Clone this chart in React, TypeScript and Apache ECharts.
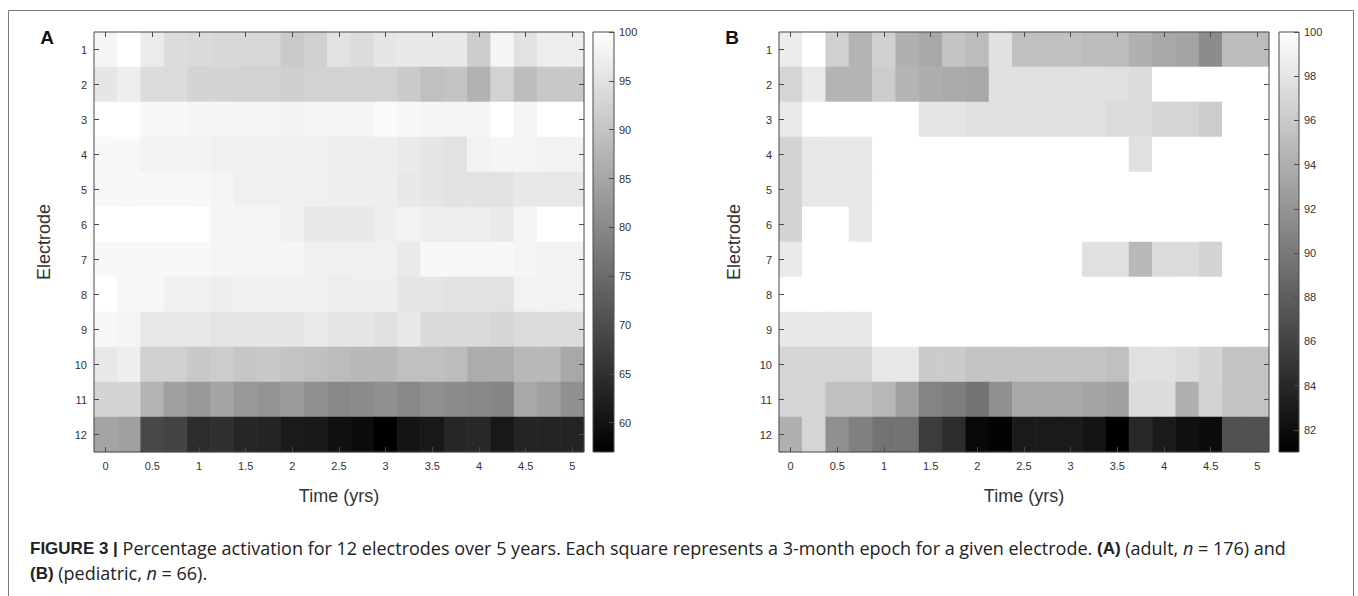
import React, { useEffect, useRef } from "react";
import * as echarts from "echarts";

// 3-month epochs, 0 .. 5 years
const EPOCHS = ["0", "0.25", "0.5", "0.75", "1", "1.25", "1.5", "1.75", "2", "2.25", "2.5", "2.75", "3", "3.25", "3.5", "3.75", "4", "4.25", "4.5", "4.75", "5"];
const ELECTRODES = ["1", "2", "3", "4", "5", "6", "7", "8", "9", "10", "11", "12"];

// colour scale ranges and colour-bar tick labels
const ADULT_RANGE = [57, 100];
const PEDIATRIC_RANGE = [81, 100];
const ADULT_BAR_TICKS = [60, 65, 70, 75, 80, 85, 90, 95, 100];
const PEDIATRIC_BAR_TICKS = [82, 84, 86, 88, 90, 92, 94, 96, 98, 100];

// (A) adult, percentage activation, one row per electrode
const ADULT: number[][] = [
  [98.3, 100, 96.6, 94.1, 93.8, 93.4, 93.4, 93.4, 91.1, 92.1, 95.1, 94.1, 95.8, 96.1, 96.1, 96.1, 91.4, 98.3, 95.1, 97.1, 97.1],
  [95.8, 97.1, 94.1, 94.1, 92.7, 92.7, 92.4, 92.4, 91.9, 92.4, 92.4, 92.4, 92.4, 91.2, 89.4, 90.1, 87.0, 92.4, 88.9, 90.7, 90.7],
  [100, 100, 98.8, 98.8, 98.3, 98.3, 98.3, 98.3, 97.8, 98.3, 98.3, 98.3, 99.2, 98.8, 98.3, 98.3, 98.3, 100, 98.3, 100, 100],
  [98.8, 98.8, 98.0, 98.0, 98.0, 97.5, 97.5, 97.5, 97.5, 97.5, 97.1, 97.1, 97.1, 96.5, 95.8, 95.1, 97.8, 98.3, 98.3, 97.8, 97.8],
  [98.8, 98.8, 98.8, 98.8, 98.8, 98.3, 97.5, 97.5, 97.5, 97.5, 97.1, 97.1, 97.1, 96.1, 95.8, 95.1, 95.1, 95.1, 96.1, 96.1, 96.1],
  [100, 100, 100, 100, 100, 98.3, 98.3, 98.3, 97.5, 96.1, 96.1, 96.1, 97.1, 97.8, 97.1, 97.1, 97.1, 96.5, 98.3, 100, 100],
  [98.8, 98.8, 98.8, 98.8, 98.8, 98.3, 98.3, 98.3, 98.3, 97.5, 97.5, 97.5, 97.5, 96.5, 98.8, 98.8, 98.8, 98.8, 98.3, 97.8, 97.8],
  [100, 98.8, 98.8, 97.5, 97.5, 97.1, 97.5, 97.5, 97.5, 97.5, 97.1, 97.1, 97.1, 95.8, 95.8, 95.1, 95.1, 95.1, 97.8, 97.8, 97.8],
  [98.8, 98.3, 96.1, 96.1, 96.1, 95.4, 95.8, 95.8, 95.8, 96.5, 95.8, 95.8, 94.8, 96.1, 93.8, 93.8, 93.8, 93.1, 94.1, 94.1, 94.1],
  [96.1, 97.1, 92.1, 92.1, 90.7, 91.4, 90.4, 90.7, 90.1, 89.4, 88.7, 88.0, 88.0, 89.4, 89.4, 88.7, 86.0, 86.0, 88.0, 88.0, 85.3],
  [92.7, 92.7, 87.4, 84.0, 82.6, 84.7, 82.6, 82.0, 83.3, 81.3, 79.9, 80.6, 81.3, 79.9, 81.3, 80.6, 79.9, 79.3, 85.3, 84.0, 81.3],
  [84.7, 84.0, 69.1, 68.5, 64.4, 65.1, 63.4, 63.1, 61.4, 61.0, 59.7, 59.0, 57.0, 60.4, 61.0, 63.4, 63.7, 61.0, 63.1, 63.1, 63.1],
];

// (B) pediatric, percentage activation, one row per electrode
const PEDIATRIC: number[][] = [
  [98.6, 100, 96.5, 94.4, 96.5, 94.1, 93.5, 95.6, 95.0, 97.8, 95.3, 95.3, 95.3, 95.0, 95.0, 94.1, 93.5, 93.2, 91.4, 95.0, 95.0],
  [96.9, 98.4, 94.4, 94.4, 96.2, 94.4, 94.0, 93.7, 93.5, 97.8, 97.8, 97.8, 97.8, 97.8, 97.7, 97.4, 100, 100, 100, 100, 100],
  [98.4, 100, 100, 100, 100, 100, 98.1, 98.1, 97.7, 97.7, 97.7, 97.7, 97.7, 97.7, 97.4, 97.4, 96.9, 96.9, 96.2, 100, 100],
  [96.8, 98.3, 98.3, 98.3, 100, 100, 100, 100, 100, 100, 100, 100, 100, 100, 100, 97.7, 100, 100, 100, 100, 100],
  [96.8, 98.3, 98.3, 98.3, 100, 100, 100, 100, 100, 100, 100, 100, 100, 100, 100, 100, 100, 100, 100, 100, 100],
  [96.8, 100, 100, 98.3, 100, 100, 100, 100, 100, 100, 100, 100, 100, 100, 100, 100, 100, 100, 100, 100, 100],
  [98.4, 100, 100, 100, 100, 100, 100, 100, 100, 100, 100, 100, 100, 97.7, 97.7, 94.7, 97.4, 97.4, 96.7, 100, 100],
  [100, 100, 100, 100, 100, 100, 100, 100, 100, 100, 100, 100, 100, 100, 100, 100, 100, 100, 100, 100, 100],
  [98.3, 98.3, 98.3, 98.3, 100, 100, 100, 100, 100, 100, 100, 100, 100, 100, 100, 100, 100, 100, 100, 100, 100],
  [96.9, 96.9, 96.9, 96.9, 98.3, 98.3, 96.1, 96.1, 95.6, 95.6, 95.6, 95.6, 95.6, 95.6, 95.3, 97.7, 97.7, 97.4, 96.8, 95.6, 95.6],
  [96.9, 96.9, 95.3, 95.3, 94.7, 92.9, 90.8, 90.4, 89.6, 91.7, 93.5, 93.5, 93.5, 93.2, 92.9, 97.4, 97.4, 94.1, 96.7, 95.6, 95.6],
  [94.1, 96.9, 91.7, 90.5, 89.6, 89.6, 85.5, 84.3, 81.6, 81.2, 82.9, 82.9, 82.9, 82.5, 81.0, 84.0, 82.9, 82.2, 81.9, 87.0, 87.0],
];

const FONT = "'Liberation Sans', Arial, Helvetica, sans-serif";
const CAPTION_FONT = "'Open Sans', 'Liberation Sans', Arial, sans-serif";
const AXIS_COLOR = "#4a4a4a";
const TEXT_COLOR = "#333";

function toCells(rows: number[][]) {
  const out: number[][] = [];
  rows.forEach((row, yi) => row.forEach((v, xi) => out.push([xi, yi, v])));
  return out;
}

function heatAxes(grid: number) {
  const tick = { show: true, inside: true, length: 5, alignWithLabel: true, lineStyle: { color: AXIS_COLOR, width: 1 } };
  const common = { gridIndex: grid, z: 10, axisLine: { show: false }, splitLine: { show: false } };
  const xBottom = {
    type: "category", ...common, data: EPOCHS, position: "bottom",
    axisTick: { ...tick, interval: 1 },
    axisLabel: { interval: 1, margin: 8, fontSize: 11, color: TEXT_COLOR, fontFamily: FONT },
  };
  const xTop = {
    type: "category", ...common, data: EPOCHS, position: "top",
    axisTick: { ...tick, interval: 1 }, axisLabel: { show: false },
  };
  const yLeft = {
    type: "category", ...common, data: ELECTRODES, inverse: true, position: "left",
    axisTick: { ...tick, interval: 0 },
    axisLabel: { interval: 0, margin: 7, fontSize: 11, color: TEXT_COLOR, fontFamily: FONT },
  };
  const yRight = {
    type: "category", ...common, data: ELECTRODES, inverse: true, position: "right",
    axisTick: { ...tick, interval: 0 }, axisLabel: { show: false },
  };
  return { xBottom, xTop, yLeft, yRight };
}

function barAxes(grid: number, range: number[], ticks: number[]) {
  const x = { type: "category", gridIndex: grid, data: ["scale"], show: false, boundaryGap: true };
  const y = {
    type: "value", gridIndex: grid, z: 10, min: range[0], max: range[1], startValue: range[0], position: "right",
    axisLine: { show: false }, splitLine: { show: false },
    axisTick: { show: true, inside: true, length: 5, customValues: ticks, lineStyle: { color: AXIS_COLOR } },
    axisLabel: { show: true, margin: 5, fontSize: 11, color: TEXT_COLOR, fontFamily: FONT, customValues: ticks },
  };
  return { x, y };
}

export default function App() {
  const ref = useRef<HTMLDivElement>(null);

  useEffect(() => {
    if (!ref.current) return;
    const chart = echarts.init(ref.current, null, { renderer: "svg" });

    const a = heatAxes(0);
    const b = heatAxes(2);
    const ca = barAxes(1, ADULT_RANGE, ADULT_BAR_TICKS);
    const cb = barAxes(3, PEDIATRIC_RANGE, PEDIATRIC_BAR_TICKS);

    const gridStyle = { show: true, z: 8, borderColor: AXIS_COLOR, borderWidth: 1, backgroundColor: "transparent", outerBoundsMode: "none", containLabel: false };
    const gradient = () =>
      new echarts.graphic.LinearGradient(0, 0, 0, 1, [
        { offset: 0, color: "#ffffff" },
        { offset: 1, color: "#000000" },
      ]);

    const richCaption = {
      b: { fontWeight: "bold", fontSize: 17, fontFamily: FONT, fill: "#222" },
      i: { fontStyle: "italic", fontSize: 18, fontFamily: CAPTION_FONT, fill: "#222" },
    };

    const option: any = {
      animation: false,
      backgroundColor: "#ffffff",
      textStyle: { fontFamily: FONT },
      grid: [
        { left: 94, top: 32, width: 490, height: 420, ...gridStyle },
        { left: 593, top: 32, width: 21, height: 420, ...gridStyle },
        { left: 779, top: 32, width: 490, height: 420, ...gridStyle },
        { left: 1279, top: 32, width: 20, height: 420, ...gridStyle },
      ],
      xAxis: [a.xBottom, a.xTop, ca.x, b.xBottom, b.xTop, cb.x],
      yAxis: [a.yLeft, a.yRight, ca.y, b.yLeft, b.yRight, cb.y],
      visualMap: [
        { type: "continuous", show: false, seriesIndex: 0, min: ADULT_RANGE[0], max: ADULT_RANGE[1], inRange: { color: ["#000000", "#ffffff"] } },
        { type: "continuous", show: false, seriesIndex: 2, min: PEDIATRIC_RANGE[0], max: PEDIATRIC_RANGE[1], inRange: { color: ["#000000", "#ffffff"] } },
      ],
      series: [
        { type: "heatmap", xAxisIndex: 0, yAxisIndex: 0, data: toCells(ADULT), emphasis: { disabled: true }, itemStyle: { borderWidth: 0 } },
        { type: "bar", xAxisIndex: 2, yAxisIndex: 2, data: [ADULT_RANGE[1]], barWidth: "100%", clip: true, silent: true, itemStyle: { color: gradient() } },
        { type: "heatmap", xAxisIndex: 3, yAxisIndex: 3, data: toCells(PEDIATRIC), emphasis: { disabled: true }, itemStyle: { borderWidth: 0 } },
        { type: "bar", xAxisIndex: 5, yAxisIndex: 5, data: [PEDIATRIC_RANGE[1]], barWidth: "100%", clip: true, silent: true, itemStyle: { color: gradient() } },
      ],
      graphic: [
        { type: "rect", shape: { x: 8.5, y: 10.5, width: 1345, height: 620 }, style: { fill: "none", stroke: "#7a7a7a", lineWidth: 1 }, silent: true },
        { type: "text", x: 47, y: 37, style: { text: "A", font: `bold 19px ${FONT}`, fill: "#111", align: "center", verticalAlign: "middle" } },
        { type: "text", x: 732, y: 37, style: { text: "B", font: `bold 19px ${FONT}`, fill: "#111", align: "center", verticalAlign: "middle" } },
        { type: "text", x: 44, y: 242, rotation: Math.PI / 2, style: { text: "Electrode", font: `18px ${FONT}`, fill: TEXT_COLOR, align: "center", verticalAlign: "middle" } },
        { type: "text", x: 734, y: 242, rotation: Math.PI / 2, style: { text: "Electrode", font: `18px ${FONT}`, fill: TEXT_COLOR, align: "center", verticalAlign: "middle" } },
        { type: "text", x: 339, y: 496, style: { text: "Time (yrs)", font: `18px ${FONT}`, fill: TEXT_COLOR, align: "center", verticalAlign: "middle" } },
        { type: "text", x: 1024, y: 496, style: { text: "Time (yrs)", font: `18px ${FONT}`, fill: TEXT_COLOR, align: "center", verticalAlign: "middle" } },
        {
          type: "text", x: 30, y: 548,
          style: {
            text: "{b|FIGURE 3 |} Percentage activation for 12 electrodes over 5 years. Each square represents a 3-month epoch for a given electrode. {b|(A)} (adult, {i|n} = 176) and",
            font: `18px ${CAPTION_FONT}`, fill: "#222", verticalAlign: "middle",
            rich: richCaption,
          },
        },
        {
          type: "text", x: 30, y: 573,
          style: {
            text: "{b|(B)} (pediatric, {i|n} = 66).",
            font: `18px ${CAPTION_FONT}`, fill: "#222", verticalAlign: "middle",
            rich: richCaption,
          },
        },
      ],
    };

    chart.setOption(option);
    return () => chart.dispose();
  }, []);

  return <div ref={ref} style={{ position: "absolute", left: 0, top: 0, width: 1358, height: 596 }} />;
}
